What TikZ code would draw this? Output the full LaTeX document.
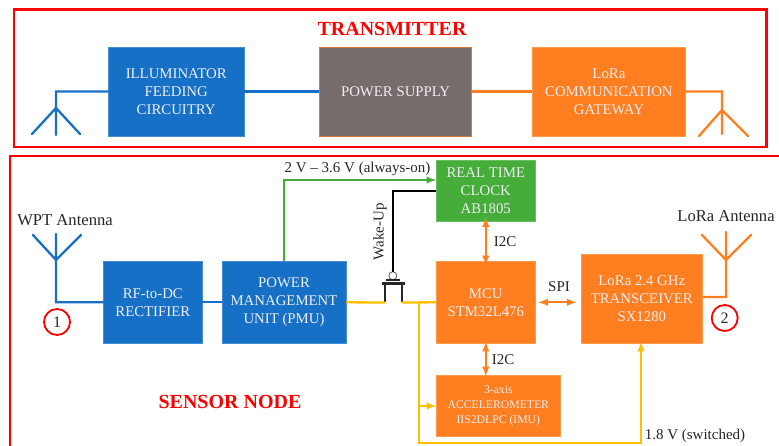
\documentclass[tikz,border=0pt]{standalone}
\usepackage{fontspec}
\setmainfont{Liberation Serif}
\definecolor{boxblue}{HTML}{1570C6}
\definecolor{boxorange}{HTML}{FF7F20}
\definecolor{boxgreen}{HTML}{46AC3A}
\definecolor{boxgray}{HTML}{766C6C}
\definecolor{railyellow}{HTML}{FFC000}
\definecolor{boxtext}{HTML}{EEEEF2}
\tikzset{
  box/.style={inner sep=0pt, text=boxtext, align=center, font=\fontsize{14.8}{18}\selectfont},
  bluebox/.style={box, fill=boxblue, draw=boxblue!80!white, line width=0.6pt},
  orangebox/.style={box, fill=boxorange, draw=boxorange!80!white, line width=0.6pt},
  greenbox/.style={box, fill=boxgreen, draw=boxgreen!80!white, line width=0.6pt},
  graybox/.style={box, fill=boxgray, draw=boxorange!70!boxgray, line width=0.8pt},
  label/.style={inner sep=0pt, text=black!85, font=\fontsize{15}{18}\selectfont},
  antennalabel/.style={label, font=\fontsize{16.6}{18}\selectfont},
  title/.style={inner sep=0pt, text=red, font=\fontsize{20}{24}\selectfont\bfseries},
  frame/.style={draw=red, line width=2.2pt},
  wire/.style={line width=2.3pt},
  port/.style={circle, draw=red, line width=1.8pt, minimum size=26pt, inner sep=0pt, text=black!85, font=\fontsize{16}{18}\selectfont}
}
\begin{document}
\begin{tikzpicture}[x=1pt, y=-1pt]
    \useasboundingbox (0,0) rectangle (779,446);

    \draw[frame] (14,9.5) rectangle (766.5,147);
    \draw[frame] (10,446) -- (10,156) -- (779,156);

    \node[title] (txtitle) at (392,29) {TRANSMITTER};
    \node[title] (rxtitle) at (230,402) {SENSOR NODE};

    \node[bluebox, minimum width=135.5, minimum height=89] (illum) at (176.2,91.5) {ILLUMINATOR\\FEEDING\\CIRCUITRY};
    \node[graybox, minimum width=152, minimum height=89] (power) at (395.6,91.5) {POWER SUPPLY};
    \node[orangebox, minimum width=152.3, minimum height=89] (gateway) at (608.9,91.5) {LoRa\\COMMUNICATION\\GATEWAY};

    \node[bluebox, minimum width=98.5, minimum height=81.3] (rf) at (152.8,302.3) {RF-to-DC\\RECTIFIER};
    \node[bluebox, minimum width=124, minimum height=81.3] (pmu) at (284,302.3) {POWER\\MANAGEMENT\\UNIT (PMU)};
    \node[greenbox, minimum width=98.3, minimum height=60.5] (rtc) at (485.8,190.7) {REAL TIME\\CLOCK\\AB1805};
    \node[orangebox, minimum width=98.3, minimum height=81.3] (mcu) at (485.8,302.3) {MCU\\STM32L476};
    \node[orangebox, minimum width=123.3, minimum height=60.3, font=\fontsize{11.7}{15}\selectfont] (accel) at (498.3,405.8) {3-axis\\ACCELEROMETER\\IIS2DLPC (IMU)};
    \node[orangebox, minimum width=121.7, minimum height=88.7] (xcvr) at (641.8,298.6) {LoRa 2.4 GHz\\TRANSCEIVER\\SX1280};

    \node[antennalabel] (wptlabel) at (65,220) {WPT Antenna};
    \node[antennalabel] (loralabel) at (726,216) {LoRa Antenna};
    \node[label] (alwayson) at (357.5,169) {2 V -- 3.6 V (always-on)};
    \node[label] (switched) at (695,435.5) {1.8 V (switched)};
    \node[label, rotate=90] (wakeup) at (380,232) {Wake-Up};
    \node[label] (i2ctop) at (505,242) {I2C};
    \node[label] (i2cbot) at (503,360) {I2C};
    \node[label] (spi) at (559,287) {SPI};
    \node[port] (p1) at (57,322) {1};
    \node[port] (p2) at (724.7,318) {2};

    \coordinate (txleft) at (56,91.5);
    \coordinate (txleftfork) at (56,108);
    \coordinate (txleftmid) at (56,135);
    \coordinate (txleftl) at (32,134);
    \coordinate (txleftr) at (80,134);
    \coordinate (txright) at (722,91.5);
    \coordinate (txrightfork) at (722,110);
    \coordinate (txrightmid) at (722,134);
    \coordinate (txrightl) at (699,136);
    \coordinate (txrightr) at (748,136);
    \coordinate (wptcorner) at (56,302.3);
    \coordinate (wptfork) at (56,260);
    \coordinate (wptmid) at (56,234);
    \coordinate (wptl) at (33,235);
    \coordinate (wptr) at (81,235);
    \coordinate (loracorner) at (726,297);
    \coordinate (lorafork) at (726,260);
    \coordinate (loramid) at (726,232);
    \coordinate (loral) at (702,235);
    \coordinate (lorar) at (751,235);

    \coordinate (greencorner) at (284,180);
    \coordinate (greenend) at (rtc.west |- greencorner);
    \coordinate (wakeend) at (rtc.west |- 0,191);
    \coordinate (wakecorner) at (392.8,191);
    \coordinate (bubbletop) at (392.8,271.7);
    \node[circle, draw=black!70, fill=white, line width=0.7pt, minimum size=8pt, inner sep=0pt] (bubble) at (392.8,275.7) {};
    \coordinate (gatel) at (386,280);
    \coordinate (gater) at (400,280);
    \coordinate (channell) at (382,283.5);
    \coordinate (channelr) at (405,283.5);
    \coordinate (drain) at (385,283.5);
    \coordinate (source) at (401.7,283.5);
    \coordinate (drainfoot) at (385,302.5);
    \coordinate (sourcefoot) at (401.7,302.5);
    \coordinate (branch) at (419,302.5);
    \coordinate (branchaccel) at (419,406);
    \coordinate (branchbot) at (419,443);
    \coordinate (railcorner) at (641,443);

    \draw[wire, color=boxblue]
    (illum) -- (power)
    (rf) -- (pmu);
    \draw[wire, color=boxblue, line cap=round]
    (illum.west) -- (txleft) -- (txleftmid)
    (txleftfork) -- (txleftl)
    (txleftfork) -- (txleftr)
    (rf.west) -- (wptcorner) -- (wptmid)
    (wptfork) -- (wptl)
    (wptfork) -- (wptr);

    \draw[wire, color=boxorange]
    (power) -- (gateway);
    \draw[wire, color=boxorange, line cap=round]
    (gateway.east) -- (txright) -- (txrightmid)
    (txrightfork) -- (txrightl)
    (txrightfork) -- (txrightr)
    (xcvr.east |- loracorner) -- (loracorner) -- (loramid)
    (lorafork) -- (loral)
    (lorafork) -- (lorar);

    \draw[->, >=latex, wire, color=boxgreen]
    (pmu.north -| greencorner) -- (greencorner) -- (greenend);

    \draw[wire, line width=2.5pt, color=black]
    (wakeend) -- (wakecorner) -- (bubbletop);
    \draw[wire, color=black!85]
    (gatel) -- (gater)
    (channell) -- (channelr)
    (drain) -- (drainfoot)
    (source) -- (sourcefoot);

    \draw[wire, color=railyellow]
    (pmu.east) -- (drainfoot)
    (sourcefoot) -- (mcu.west);
    \draw[->, >=latex, wire, color=railyellow]
    (branch) -- (branchbot) -- (railcorner) -- ([yshift=1.5pt]xcvr.south -| railcorner);
    \draw[->, >=latex, wire, color=railyellow]
    (branchaccel) -- (accel.west |- branchaccel);

    \draw[<->, >=latex, wire, color=boxorange]
    ([yshift=4pt]rtc.south) -- ([yshift=-4pt]mcu.north);
    \draw[<->, >=latex, wire, color=boxorange]
    ([yshift=1.5pt]mcu.south) -- ([yshift=-1pt]mcu.south |- accel.north);
    \draw[<->, >=latex, wire, color=boxorange]
    ([xshift=3pt]mcu.east) -- ([xshift=-4pt]xcvr.west |- mcu.east);

  \end{tikzpicture}
\end{document}
